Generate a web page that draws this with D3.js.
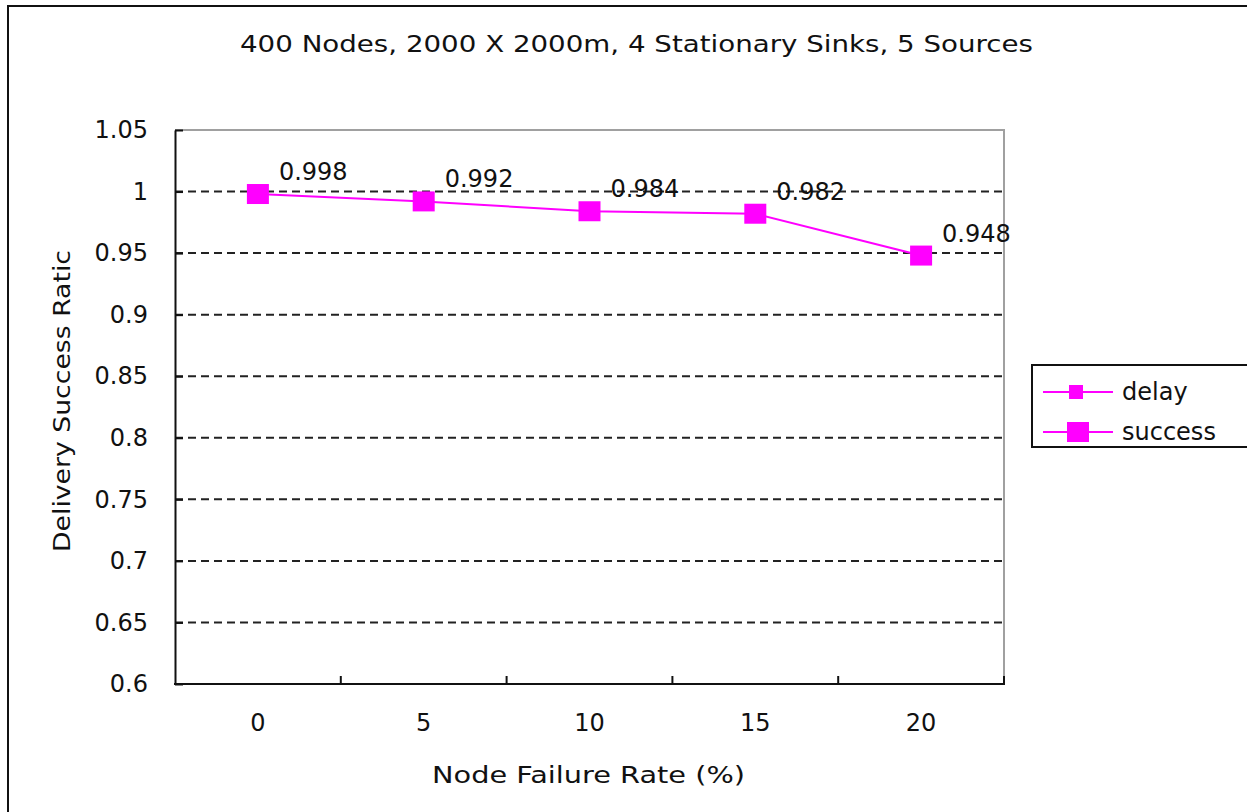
<!DOCTYPE html>
<html>
<head>
<meta charset="utf-8">
<script src="https://cdnjs.cloudflare.com/ajax/libs/d3/7.8.5/d3.min.js"></script>
<style>
  body { margin: 0; background: #fff; }
  svg { display: block; }
  text { font-family: "DejaVu Sans", sans-serif; fill: #111; }
</style>
</head>
<body>
<svg id="chart"></svg>
<script>
// data
var categories = ["0", "5", "10", "15", "20"];
var successValues = [0.998, 0.992, 0.984, 0.982, 0.948];
var yTicks = [0.6, 0.65, 0.7, 0.75, 0.8, 0.85, 0.9, 0.95, 1, 1.05];
var seriesNames = ["delay", "success"];
var titleText = "400 Nodes, 2000 X 2000m, 4 Stationary Sinks, 5 Sources";
var xTitle = "Node Failure Rate (%)";
var yTitle = "Delivery Success Ratic";

(function() {
var width = 1247, height = 812;
var svg = d3.select("#chart").attr("width", width).attr("height", height);

var pLeft = 175, pRight = 1004, pTop = 130, pBottom = 684;
var magenta = "#ff00ff";

var x = d3.scaleBand().domain(categories).range([pLeft, pRight]).padding(0);
var y = d3.scaleLinear().domain([0.6, 1.05]).range([pBottom, pTop]);
var cx = function(c) { return x(c) + x.bandwidth() / 2; };

// outer chart frame (runs off the window on right and bottom)
svg.append("rect")
    .attr("x", 8).attr("y", 6)
    .attr("width", 1300).attr("height", 900)
    .attr("fill", "none").attr("stroke", "#111").attr("stroke-width", 2);

// title
svg.append("text")
    .attr("x", 240).attr("y", 52)
    .attr("textLength", 793).attr("lengthAdjust", "spacingAndGlyphs")
    .style("font-size", "23px")
    .text(titleText);

// gridlines
svg.append("g").selectAll("line")
    .data(yTicks.filter(function(d) { return d > 0.6 && d < 1.05; }))
    .join("line")
    .attr("x1", pLeft).attr("x2", pRight)
    .attr("y1", function(d) { return y(d); }).attr("y2", function(d) { return y(d); })
    .attr("stroke", "#222").attr("stroke-width", 2)
    .attr("stroke-dasharray", "8,5");

// plot frame: grey top/right, black left/bottom
svg.append("path")
    .attr("d", "M" + pLeft + "," + pTop + "H" + pRight + "V" + pBottom)
    .attr("fill", "none").attr("stroke", "#a0a0a0").attr("stroke-width", 2);

// y axis
var yAxis = svg.append("g")
    .attr("transform", "translate(" + pLeft + ",0)")
    .call(d3.axisLeft(y).tickValues(yTicks).tickSize(-8).tickSizeOuter(0).tickPadding(27)
        .tickFormat(function(d) { return String(+d.toFixed(2)); }));
yAxis.select(".domain").attr("stroke", "#111").attr("stroke-width", 2);
yAxis.selectAll(".tick line").attr("stroke", "#111").attr("stroke-width", 2);
yAxis.selectAll(".tick text").style("font-size", "24px").style("font-family", "DejaVu Sans").attr("fill", "#111");

// x axis: labels at band centres, ticks at band boundaries pointing inward
var xAxis = svg.append("g")
    .attr("transform", "translate(0," + pBottom + ")")
    .call(d3.axisBottom(x).tickSize(0).tickPadding(30));
xAxis.select(".domain").remove();
xAxis.selectAll(".tick text").style("font-size", "24px").style("font-family", "DejaVu Sans").attr("fill", "#111");

svg.append("line")
    .attr("x1", pLeft - 1).attr("x2", pRight + 1)
    .attr("y1", pBottom).attr("y2", pBottom)
    .attr("stroke", "#111").attr("stroke-width", 2);

var bounds = categories.slice(1).map(function(c) { return x(c); }).concat([pRight]);
svg.append("g").selectAll("line")
    .data(bounds)
    .join("line")
    .attr("x1", function(d) { return d; }).attr("x2", function(d) { return d; })
    .attr("y1", pBottom).attr("y2", pBottom - 8)
    .attr("stroke", "#111").attr("stroke-width", 2);

// axis titles
svg.append("text")
    .attr("x", 432).attr("y", 783)
    .attr("textLength", 313).attr("lengthAdjust", "spacingAndGlyphs")
    .style("font-size", "23px")
    .text(xTitle);

svg.append("text")
    .attr("transform", "translate(70,401) rotate(-90)")
    .attr("text-anchor", "middle")
    .attr("textLength", 302).attr("lengthAdjust", "spacingAndGlyphs")
    .style("font-size", "23px")
    .text(yTitle);

// success series
var pts = categories.map(function(c, i) { return { c: c, v: successValues[i] }; });

svg.append("path")
    .datum(pts)
    .attr("fill", "none").attr("stroke", magenta).attr("stroke-width", 2)
    .attr("d", d3.line().x(function(d) { return cx(d.c); }).y(function(d) { return y(d.v); }));

svg.append("g").selectAll("rect")
    .data(pts)
    .join("rect")
    .attr("x", function(d) { return cx(d.c) - 11; })
    .attr("y", function(d) { return y(d.v) - 10; })
    .attr("width", 22).attr("height", 20)
    .attr("fill", magenta);

svg.append("g").selectAll("text")
    .data(pts)
    .join("text")
    .attr("x", function(d) { return cx(d.c) + 21; })
    .attr("y", function(d) { return y(d.v) - 14; })
    .style("font-size", "24px")
    .text(function(d) { return String(d.v); });

// legend
var lg = svg.append("g");
lg.append("rect")
    .attr("x", 1032).attr("y", 365).attr("width", 260).attr("height", 82)
    .attr("fill", "#fff").attr("stroke", "#111").attr("stroke-width", 2);

var rows = lg.selectAll("g.row")
    .data(seriesNames)
    .join("g")
    .attr("class", "row")
    .attr("transform", function(d, i) { return "translate(0," + (392 + i * 40) + ")"; });

rows.append("line")
    .attr("x1", 1043).attr("x2", 1113)
    .attr("stroke", magenta).attr("stroke-width", 2);
rows.append("rect")
    .attr("x", function(d, i) { return i === 0 ? 1069 : 1067; })
    .attr("y", function(d, i) { return i === 0 ? -7 : -10; })
    .attr("width", function(d, i) { return i === 0 ? 14 : 22; })
    .attr("height", function(d, i) { return i === 0 ? 14 : 20; })
    .attr("fill", magenta);
rows.append("text")
    .attr("x", 1122).attr("dy", "0.35em")
    .style("font-size", "24px")
    .text(function(d) { return d; });
})();
</script>
</body>
</html>
